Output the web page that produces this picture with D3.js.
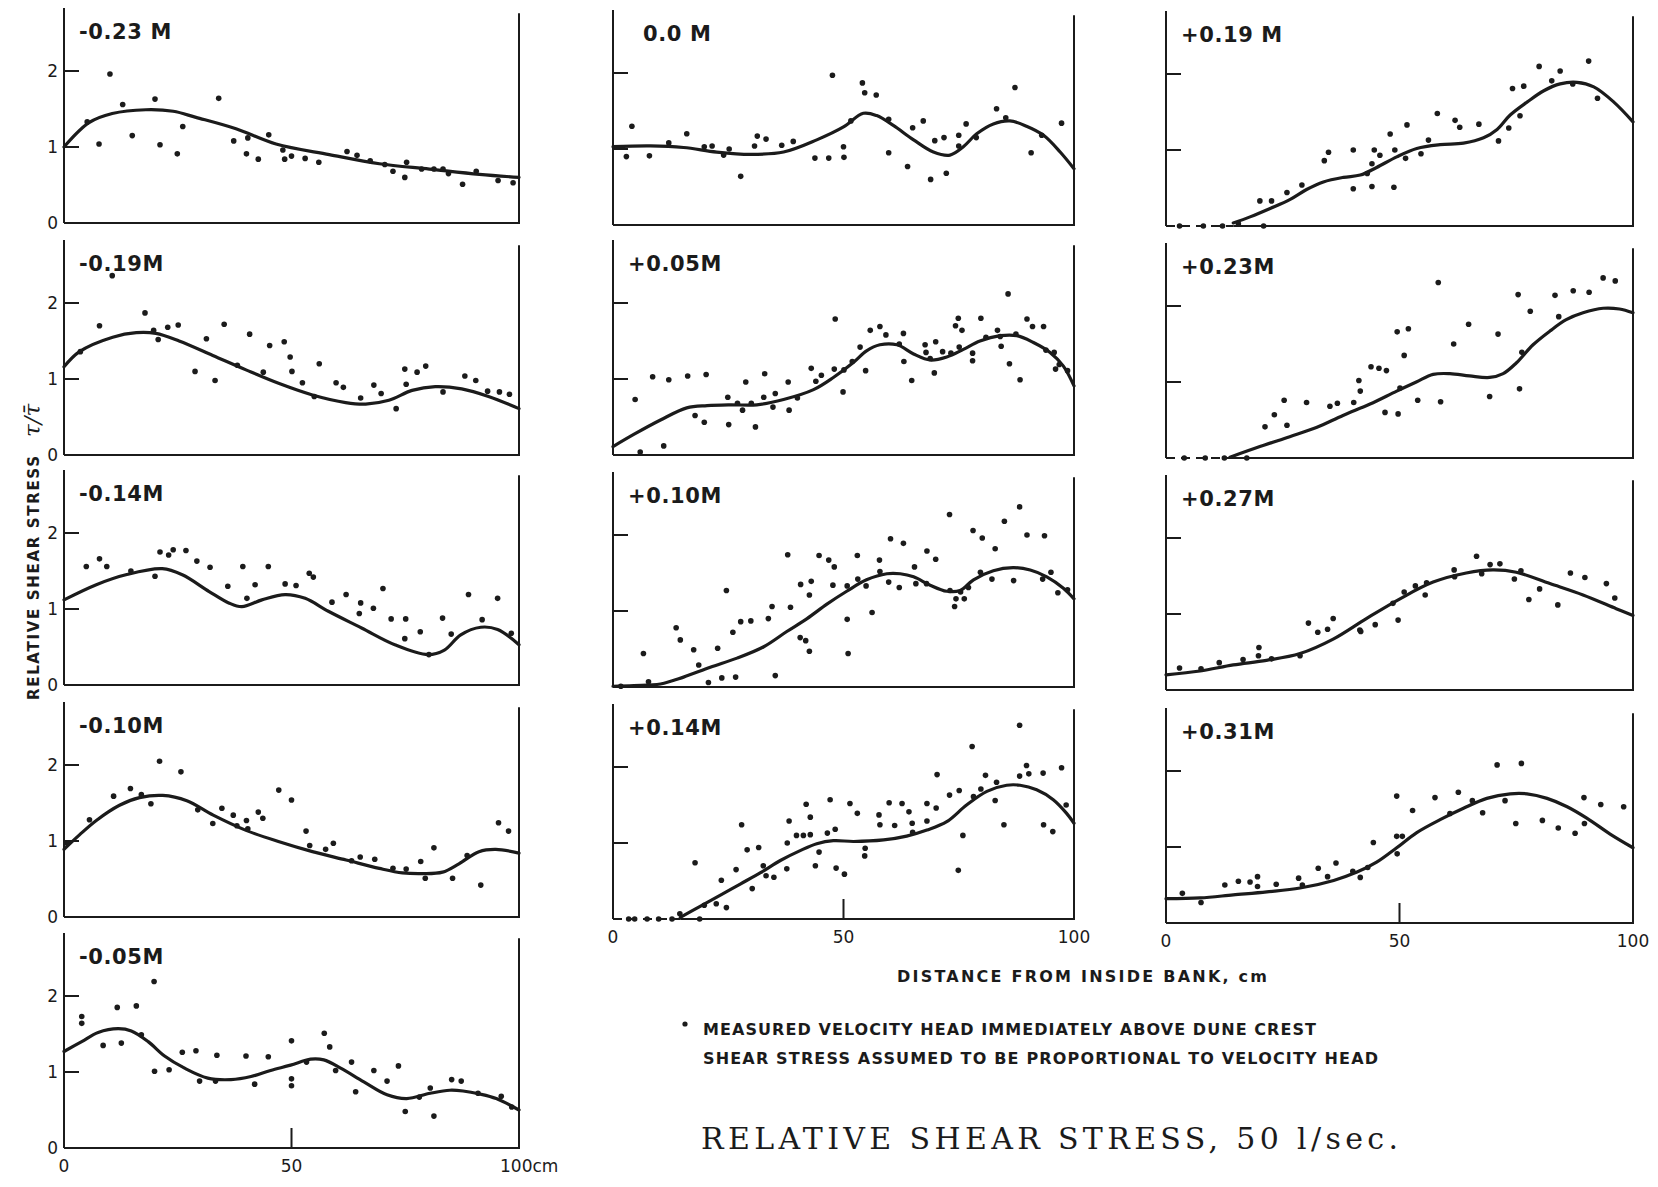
<!DOCTYPE html>
<html>
<head>
<meta charset="utf-8">
<script src="https://cdn.jsdelivr.net/npm/d3@7"></script>
<style>
  body { margin: 0; background: #fff; }
  svg { display: block; }
</style>
</head>
<body>
<svg id="chart" width="1658" height="1187"></svg>
<script>
// ---- data: [distance cm, tau / mean tau] ----
const ptsM023 = [[5.1,1.33],[7.7,1.04],[10.1,1.96],[12.9,1.56],[15.0,1.15],[20.0,1.63],[21.1,1.03],[24.9,0.91],[26.1,1.27],[34.0,1.64],[37.3,1.08],[40.1,0.91],[40.4,1.12],[42.7,0.84],[45.0,1.16],[48.1,0.96],[48.5,0.84],[50.0,0.88],[53.0,0.85],[56.0,0.80],[62.2,0.94],[64.4,0.89],[67.3,0.82],[70.5,0.77],[72.3,0.68],[74.9,0.60],[75.3,0.80],[78.6,0.71],[81.3,0.71],[83.3,0.71],[84.5,0.65],[87.6,0.51],[90.6,0.68],[95.4,0.56],[98.7,0.53]];
const crvM023 = [[0,1.0],[5.5,1.32],[10.6,1.44],[18,1.49],[24,1.47],[29,1.39],[37.8,1.24],[46.6,1.04],[58.3,0.90],[69.3,0.78],[80.3,0.71],[91.3,0.64],[100,0.60]];

const ptsM019 = [[3.6,1.36],[7.8,1.70],[10.6,2.36],[17.8,1.87],[19.7,1.64],[20.7,1.52],[22.8,1.68],[25.1,1.71],[28.8,1.10],[31.3,1.53],[33.2,0.98],[35.2,1.72],[38.1,1.18],[40.8,1.59],[43.8,1.09],[45.2,1.44],[48.4,1.49],[49.7,1.29],[50.1,1.10],[52.4,0.95],[55.0,0.77],[56.1,1.20],[59.8,0.95],[61.4,0.89],[65.2,0.75],[68.1,0.92],[69.7,0.81],[73.0,0.61],[74.9,1.13],[75.2,0.93],[77.6,1.09],[79.5,1.17],[83.3,0.83],[88.1,1.04],[90.5,0.98],[93.1,0.84],[95.7,0.83],[97.9,0.80]];
const crvM019 = [[0,1.16],[3.4,1.36],[10.7,1.55],[15.9,1.61],[20.2,1.60],[25.3,1.50],[32.7,1.31],[40,1.12],[47.3,0.94],[54.6,0.79],[61.9,0.69],[66.3,0.67],[71.4,0.72],[76.5,0.85],[81.6,0.90],[87.4,0.87],[93.3,0.77],[100,0.61]];

const ptsM014 = [[4.9,1.56],[7.8,1.66],[9.4,1.56],[14.7,1.50],[20.0,1.43],[21.1,1.75],[23.0,1.71],[24.0,1.78],[26.8,1.77],[29.2,1.63],[32.1,1.55],[36.0,1.30],[39.3,1.56],[40.2,1.14],[42.0,1.32],[44.9,1.56],[48.6,1.33],[51.0,1.31],[53.9,1.47],[54.8,1.42],[58.9,1.09],[62.0,1.19],[64.9,0.94],[65.2,1.08],[68.0,1.01],[70.1,1.27],[71.9,0.87],[75.1,0.87],[74.9,0.61],[78.3,0.70],[80.2,0.40],[83.2,0.88],[85.1,0.67],[88.9,1.19],[91.9,0.86],[95.3,1.14],[98.3,0.68]];
const crvM014 = [[0,1.12],[7.1,1.32],[13.6,1.45],[21.6,1.53],[26,1.45],[31.9,1.23],[36.2,1.08],[39.1,1.03],[43.5,1.12],[48.6,1.19],[53,1.14],[58.1,0.97],[65.4,0.75],[72.7,0.53],[80,0.40],[83.6,0.46],[87.2,0.66],[91.6,0.76],[95.3,0.73],[100,0.53]];

const ptsM010 = [[0.7,0.97],[5.6,1.28],[10.9,1.59],[14.6,1.69],[17.0,1.61],[19.1,1.49],[21.0,2.05],[25.7,1.91],[29.4,1.41],[32.7,1.23],[34.7,1.43],[37.2,1.34],[38.0,1.20],[40.1,1.27],[40.4,1.16],[42.7,1.38],[43.7,1.30],[47.2,1.67],[50.0,1.54],[53.2,1.13],[54.0,0.94],[57.5,0.89],[59.2,0.97],[63.2,0.74],[65.1,0.79],[68.3,0.76],[72.3,0.64],[75.2,0.63],[78.4,0.73],[79.4,0.51],[81.3,0.91],[85.4,0.51],[88.6,0.81],[91.6,0.42],[95.5,1.24],[97.7,1.13]];
const crvM010 = [[0,0.89],[3.4,1.08],[7.1,1.27],[12.2,1.47],[16.6,1.57],[21.7,1.60],[27,1.53],[32.8,1.34],[40,1.14],[47.3,0.99],[54.6,0.86],[62,0.75],[69.3,0.64],[74.4,0.58],[78.8,0.57],[83.2,0.59],[86.8,0.70],[91.2,0.86],[94.9,0.89],[100,0.84]];

const ptsM005 = [[3.9,1.73],[3.9,1.64],[8.6,1.35],[11.7,1.85],[12.6,1.38],[15.9,1.87],[17.0,1.49],[19.8,2.19],[19.9,1.01],[23.1,1.03],[26.0,1.26],[29.0,1.28],[29.8,0.88],[33.3,0.88],[33.6,1.22],[40.0,1.21],[41.9,0.84],[44.9,1.20],[50.0,1.41],[50.0,0.91],[50.0,0.82],[53.3,1.13],[57.2,1.51],[58.4,1.33],[59.7,1.02],[63.2,1.13],[64.1,0.74],[68.1,1.02],[71.0,0.88],[73.5,1.08],[75.0,0.48],[78.1,0.67],[80.5,0.79],[81.3,0.42],[85.2,0.90],[87.3,0.88],[91.0,0.72],[96.1,0.68],[98.4,0.54]];
const crvM005 = [[0,1.27],[3.9,1.40],[7.5,1.52],[11.9,1.57],[14.8,1.54],[18.5,1.40],[22.1,1.21],[26.5,1.05],[31.6,0.92],[36.7,0.90],[41.1,0.94],[45.4,1.02],[49.8,1.09],[54.2,1.17],[57.1,1.16],[60.8,1.05],[65.9,0.87],[71,0.70],[75.3,0.65],[80.5,0.72],[84.8,0.76],[87.7,0.75],[91.4,0.71],[95,0.65],[100,0.50]];

const ptsZ000 = [[2.9,0.90],[4.1,1.30],[7.9,0.91],[12.1,1.08],[16.0,1.20],[19.8,1.03],[21.5,1.04],[24.0,0.92],[25.2,1.00],[27.7,0.64],[30.7,1.04],[31.3,1.17],[33.2,1.13],[36.6,1.05],[39.1,1.10],[43.8,0.88],[46.8,0.88],[47.6,1.97],[50.0,1.03],[50.1,0.89],[51.6,1.37],[54.1,1.87],[54.6,1.74],[57.1,1.71],[59.8,1.39],[59.8,0.95],[63.9,0.77],[65.0,1.28],[67.3,1.37],[68.9,0.60],[69.8,1.11],[71.8,1.15],[72.3,0.68],[75.0,1.04],[75.0,1.18],[76.6,1.33],[78.8,1.15],[83.2,1.53],[85.2,1.41],[87.2,1.81],[90.7,0.95],[93.0,1.18],[97.3,1.34]];
const crvZ000 = [[0,1.03],[8.1,1.04],[15.3,1.02],[22.5,0.96],[29.8,0.93],[37,0.96],[44.2,1.12],[50,1.29],[54.3,1.47],[57.2,1.44],[60.8,1.31],[65.2,1.12],[69.5,0.96],[73.1,0.92],[76,1.03],[78.9,1.20],[82.5,1.33],[86.1,1.37],[89.7,1.30],[93.4,1.18],[97,0.96],[100,0.74]];

const ptsP005 = [[4.8,0.73],[5.9,0.04],[8.6,1.03],[11.0,0.12],[12.1,0.99],[16.2,1.04],[17.8,0.52],[19.8,0.43],[20.2,1.06],[24.9,0.76],[25.1,0.40],[27.0,0.68],[28.1,0.59],[28.8,0.96],[30.0,0.68],[30.9,0.37],[32.7,0.76],[32.9,1.07],[34.7,0.63],[35.2,0.81],[38.0,0.96],[38.2,0.59],[40.0,0.75],[43.0,1.14],[44.0,0.97],[45.2,1.05],[48.2,1.79],[48.0,1.13],[49.9,0.83],[50.1,1.12],[51.9,1.23],[53.6,1.42],[54.8,1.11],[55.8,1.64],[57.9,1.69],[59.2,1.58],[62.1,1.46],[63.0,1.60],[63.1,1.23],[64.8,0.98],[67.7,1.45],[67.9,1.35],[68.8,1.27],[69.7,1.08],[70.0,1.49],[71.5,1.36],[73.3,1.34],[74.3,1.70],[74.9,1.80],[75.7,1.64],[75.1,1.42],[78.0,1.34],[78.0,1.24],[79.8,1.80],[80.9,1.55],[83.4,1.64],[84.0,1.56],[84.2,1.43],[85.7,2.12],[86.0,1.20],[87.4,1.59],[88.3,0.99],[89.8,1.79],[91.0,1.69],[93.4,1.69],[93.9,1.38],[95.7,1.35],[96.0,1.13],[96.8,1.19],[98.6,1.11]];
const crvP005 = [[0,0.11],[4.5,0.27],[10.3,0.46],[16,0.62],[20.4,0.65],[25.4,0.66],[31.2,0.66],[37,0.73],[43.5,0.86],[47.8,1.02],[52.2,1.22],[55,1.37],[57.9,1.45],[61.6,1.45],[65.2,1.33],[68.8,1.25],[72.4,1.29],[76,1.39],[79.6,1.50],[84,1.57],[87.6,1.57],[91.2,1.48],[94.8,1.35],[97.7,1.17],[100,0.91]];

const ptsP010 = [[1.7,0.01],[6.6,0.44],[7.7,0.07],[13.7,0.78],[14.6,0.62],[17.5,0.49],[18.6,0.29],[20.7,0.06],[22.7,0.51],[23.6,0.12],[24.6,1.27],[26.0,0.72],[26.6,0.13],[27.7,0.86],[29.9,0.87],[33.7,0.90],[34.5,1.06],[35.2,0.15],[37.9,1.74],[38.5,1.05],[40.6,0.65],[40.7,1.35],[41.8,0.61],[42.6,1.21],[42.6,0.47],[43.0,1.39],[44.7,1.73],[46.8,1.67],[47.7,1.34],[48.0,1.58],[50.8,1.33],[50.8,0.89],[51.0,0.44],[53.0,1.73],[53.1,1.42],[54.9,1.33],[56.2,0.98],[57.8,1.67],[57.9,1.52],[59.8,1.38],[60.2,1.95],[62.1,1.31],[63.0,1.89],[65.4,1.58],[65.7,1.36],[68.0,1.36],[68.1,1.79],[70.0,1.68],[73.0,2.27],[73.1,1.27],[74.1,1.06],[74.4,1.16],[75.4,1.25],[76.2,1.16],[77.1,1.31],[78.1,2.06],[79.7,1.51],[80.1,1.96],[82.2,1.42],[82.9,1.82],[84.9,2.18],[86.9,1.40],[88.2,2.37],[89.8,2.00],[93.6,1.99],[93.2,1.42],[95.0,1.51],[96.5,1.24],[98.6,1.28]];
const crvP010 = [[0,0.01],[4.5,0.02],[10.3,0.04],[15.3,0.13],[21.1,0.26],[26.9,0.38],[32.7,0.53],[37.7,0.73],[42.1,0.90],[46.4,1.09],[50.7,1.26],[55,1.41],[59.4,1.49],[62.3,1.49],[65.2,1.45],[68.8,1.34],[72.4,1.26],[75.3,1.27],[78.2,1.41],[82.5,1.53],[86.8,1.57],[90.5,1.54],[94.1,1.45],[97.7,1.30],[100,1.16]];

const ptsP014 = [[3.4,0],[4.7,0],[7.4,0],[9.9,0],[12.8,0],[14.5,0.07],[17.8,0.74],[18.8,0],[19.8,0.18],[22.4,0.20],[23.5,0.51],[24.6,0.15],[26.7,0.65],[27.9,1.24],[29.1,0.91],[30.2,0.40],[31.6,0.94],[32.6,0.70],[33.2,0.57],[34.9,0.55],[37.7,0.66],[37.8,1.00],[38.2,1.29],[39.8,1.10],[41.3,1.10],[41.9,1.51],[42.8,1.34],[42.8,1.11],[43.9,0.70],[44.7,0.88],[46.5,1.13],[47.1,1.57],[48.2,1.18],[48.4,0.67],[50.2,0.59],[51.4,1.52],[53.0,1.39],[54.6,0.83],[54.7,0.93],[57.7,1.37],[57.9,1.24],[59.9,1.53],[61.1,1.23],[62.7,1.52],[64.2,1.41],[64.9,1.26],[65.0,1.14],[68.1,1.52],[68.1,1.29],[70.1,1.46],[70.3,1.90],[73.0,1.63],[74.9,0.64],[75.1,1.69],[75.9,1.10],[77.9,2.27],[78.2,1.61],[79.8,1.71],[80.8,1.89],[82.9,1.56],[83.2,1.80],[84.8,1.24],[88.2,2.55],[88.2,1.88],[89.7,2.02],[90.2,1.91],[93.3,1.92],[93.4,1.24],[95.4,1.15],[97.3,1.99],[98.3,1.50]];
const crvP014 = [[14.6,0.02],[19,0.17],[23.5,0.32],[27.6,0.46],[32,0.61],[36.3,0.77],[40.6,0.90],[44.2,0.99],[47.8,1.03],[52.2,1.02],[58.7,1.04],[63.7,1.09],[68.1,1.17],[72.4,1.28],[76.7,1.50],[81.1,1.68],[85.4,1.76],[88.3,1.76],[91.9,1.70],[95.5,1.57],[98.4,1.39],[100,1.26]];

const ptsP019 = [[2.9,0],[8.0,0],[12.1,0],[15.5,0.03],[20.9,0],[20.1,0.33],[22.6,0.33],[25.9,0.44],[29.1,0.54],[33.9,0.86],[34.8,0.97],[40.1,1.00],[40.1,0.49],[43.1,0.69],[44.1,0.52],[44.1,0.82],[44.6,1.00],[45.8,0.93],[48.0,1.21],[48.8,0.51],[49.0,1.00],[51.3,0.89],[51.6,1.33],[54.6,0.95],[56.2,1.13],[58.1,1.48],[61.9,1.39],[62.9,1.30],[67.0,1.34],[71.2,1.12],[73.4,1.29],[74.2,1.81],[75.8,1.45],[76.6,1.84],[79.9,2.10],[82.6,1.91],[84.4,2.04],[87.1,1.87],[90.5,2.17],[92.4,1.68]];
const crvP019 = [[14.4,0.04],[18,0.12],[22.3,0.23],[26.6,0.35],[30.1,0.48],[33.7,0.58],[38,0.64],[41.6,0.67],[45.1,0.77],[49.4,0.91],[53.7,1.02],[58.7,1.07],[63.7,1.09],[68,1.16],[70.9,1.27],[73.7,1.46],[77.3,1.63],[80.9,1.78],[84.4,1.87],[88,1.89],[91.6,1.83],[95.9,1.63],[100,1.37]];

const ptsP023 = [[3.9,0],[8.4,0],[12.5,0],[17.3,0],[21.2,0.41],[23.2,0.57],[25.3,0.76],[25.9,0.43],[30.1,0.73],[35.1,0.68],[36.7,0.72],[40.2,0.73],[41.3,1.02],[41.6,0.88],[43.9,1.20],[45.6,1.18],[47.2,1.15],[46.9,0.60],[49.5,1.66],[49.7,0.58],[50.1,0.92],[51.0,1.35],[51.9,1.70],[53.9,0.76],[58.3,2.31],[58.8,0.74],[61.6,1.50],[64.8,1.76],[69.3,0.81],[71.1,1.63],[75.4,2.15],[75.7,0.91],[76.2,1.39],[78.0,1.93],[83.3,2.14],[84.1,1.86],[87.2,2.20],[90.6,2.18],[93.6,2.37],[96.2,2.33]];
const crvP023 = [[13.7,0.01],[20.1,0.15],[26.5,0.28],[32.2,0.40],[37.9,0.56],[43.7,0.71],[49.4,0.88],[53.6,1.00],[57.2,1.10],[60.8,1.11],[65,1.08],[69.3,1.06],[72.2,1.11],[75,1.25],[78.6,1.49],[82.2,1.67],[85.7,1.82],[89.3,1.91],[93.6,1.97],[97.1,1.96],[100,1.91]];

const ptsP027 = [[2.9,0.29],[7.5,0.28],[11.4,0.36],[16.5,0.40],[19.8,0.45],[19.9,0.56],[22.6,0.41],[28.7,0.45],[30.5,0.88],[32.5,0.76],[34.6,0.80],[35.8,0.94],[41.5,0.79],[41.7,0.77],[44.8,0.86],[48.6,1.14],[49.7,0.92],[51.0,1.29],[53.4,1.37],[55.5,1.25],[55.8,1.41],[61.7,1.58],[61.8,1.49],[66.5,1.76],[67.6,1.53],[69.4,1.65],[71.5,1.66],[74.6,1.46],[76.0,1.57],[77.7,1.19],[80.0,1.33],[83.9,1.12],[86.6,1.54],[89.7,1.48],[94.3,1.40],[96.1,1.21]];
const crvP027 = [[0,0.20],[7.3,0.25],[14.4,0.33],[21.5,0.39],[28.7,0.48],[35.8,0.67],[42.9,0.94],[50.1,1.20],[57.2,1.42],[64.3,1.54],[70,1.58],[75,1.55],[82.2,1.40],[89.3,1.25],[96.4,1.07],[100,0.98]];

const ptsP031 = [[3.5,0.39],[7.5,0.27],[12.6,0.50],[15.5,0.55],[18.0,0.54],[19.6,0.61],[19.6,0.48],[23.6,0.51],[28.4,0.59],[29.2,0.50],[32.6,0.72],[34.6,0.61],[36.4,0.79],[40.0,0.68],[41.6,0.60],[43.2,0.73],[44.4,1.06],[49.4,1.67],[49.4,1.14],[50.6,1.14],[49.5,0.91],[52.8,1.48],[57.6,1.65],[60.8,1.44],[62.6,1.72],[65.6,1.61],[67.8,1.45],[70.9,2.08],[72.6,1.61],[74.9,1.31],[76.1,2.10],[80.6,1.35],[84.0,1.25],[87.6,1.18],[89.5,1.65],[89.6,1.31],[93.1,1.56],[98.0,1.53]];
const crvP031 = [[0,0.32],[7.3,0.33],[14.4,0.37],[21.6,0.41],[28.7,0.46],[35.9,0.56],[40.9,0.67],[45.1,0.80],[49.4,0.99],[53.7,1.19],[58.7,1.36],[63.7,1.51],[68.7,1.64],[73.7,1.70],[77.3,1.70],[81.6,1.64],[85.9,1.53],[90.1,1.38],[95.1,1.17],[100,0.99]];

const yTicks = [0, 1, 2];
const xTicks = [0, 50, 100];

// which panel sits where (col, row), and where the curve lifts off zero
const panels = [
  { label: "-0.23 M", col: 0, row: 0, pts: ptsM023, crv: crvM023 },
  { label: "-0.19M",  col: 0, row: 1, pts: ptsM019, crv: crvM019 },
  { label: "-0.14M",  col: 0, row: 2, pts: ptsM014, crv: crvM014 },
  { label: "-0.10M",  col: 0, row: 3, pts: ptsM010, crv: crvM010 },
  { label: "-0.05M",  col: 0, row: 4, pts: ptsM005, crv: crvM005 },
  { label: "0.0 M",   col: 1, row: 0, pts: ptsZ000, crv: crvZ000 },
  { label: "+0.05M",  col: 1, row: 1, pts: ptsP005, crv: crvP005 },
  { label: "+0.10M",  col: 1, row: 2, pts: ptsP010, crv: crvP010 },
  { label: "+0.14M",  col: 1, row: 3, pts: ptsP014, crv: crvP014, zeroTo: 14.6 },
  { label: "+0.19 M", col: 2, row: 0, pts: ptsP019, crv: crvP019, zeroTo: 14.4 },
  { label: "+0.23M",  col: 2, row: 1, pts: ptsP023, crv: crvP023, zeroTo: 13.7 },
  { label: "+0.27M",  col: 2, row: 2, pts: ptsP027, crv: crvP027 },
  { label: "+0.31M",  col: 2, row: 3, pts: ptsP031, crv: crvP031 }
];

// ---- layout ----
const ink = "#1b1b1b";
const font = "'DejaVu Sans', sans-serif";
const unit = 76;          // px per 1.0 of tau/tau-bar
const colX = [[64, 519], [613, 1074], [1166, 1633]];
const baseY = [[223, 455, 685, 917, 1148], [225, 455, 687, 919], [226, 458, 690, 923]];
const lastRow = [4, 3, 3];
const labelIndent = { "0.0 M": 30 };

const svg = d3.select("#chart");
svg.append("rect").attr("width", 1658).attr("height", 1187).attr("fill", "#fff");

const line = d3.line().curve(d3.curveCatmullRom.alpha(0.5));

panels.forEach(p => {
  const [x0, x1] = colX[p.col];
  const b = baseY[p.col][p.row];
  const x = d3.scaleLinear().domain([0, 100]).range([x0, x1]);
  const y = d3.scaleLinear().domain([0, 2.8]).range([b, b - 2.8 * unit]);
  const g = svg.append("g");

  // frame: left, right, bottom
  g.append("line").attr("x1", x(0)).attr("x2", x(0)).attr("y1", y(0)).attr("y2", y(2.83))
    .attr("stroke", ink).attr("stroke-width", 2);
  g.append("line").attr("x1", x(100)).attr("x2", x(100)).attr("y1", y(0) + 1).attr("y2", y(2.76))
    .attr("stroke", ink).attr("stroke-width", 2);
  g.append("line").attr("x1", x(p.zeroTo || 0)).attr("x2", x(100)).attr("y1", y(0)).attr("y2", y(0))
    .attr("stroke", ink).attr("stroke-width", 2);
  if (p.zeroTo) {
    g.append("line").attr("x1", x(0)).attr("x2", x(p.zeroTo)).attr("y1", y(0)).attr("y2", y(0))
      .attr("stroke", ink).attr("stroke-width", 2).attr("stroke-dasharray", "9,6");
  }

  // inward ticks at 1 and 2
  g.selectAll(".yt").data(yTicks.filter(t => t > 0)).enter().append("line")
    .attr("x1", x(0)).attr("x2", x(0) + 15)
    .attr("y1", d => y(d)).attr("y2", d => y(d))
    .attr("stroke", ink).attr("stroke-width", 2);

  if (p.col === 0) {
    g.selectAll(".yl").data(yTicks).enter().append("text")
      .attr("x", x(0) - 6).attr("y", d => y(d)).attr("dy", "0.36em")
      .attr("text-anchor", "end")
      .attr("font-family", font).attr("font-size", 17).attr("fill", ink)
      .text(d => d);
  }

  if (p.row === lastRow[p.col]) {
    g.append("line").attr("x1", x(50)).attr("x2", x(50)).attr("y1", y(0)).attr("y2", y(0) - 20)
      .attr("stroke", ink).attr("stroke-width", 2);
    g.selectAll(".xl").data(xTicks).enter().append("text")
      .attr("x", d => x(d)).attr("y", y(0) + 24)
      .attr("text-anchor", d => (p.col === 0 && d === 100) ? "start" : "middle")
      .attr("dx", d => (p.col === 0 && d === 100) ? -19 : 0)
      .attr("font-family", font).attr("font-size", 17).attr("fill", ink)
      .text(d => (p.col === 0 && d === 100) ? "100cm" : d);
  }

  // fitted curve
  g.append("path")
    .attr("d", line(p.crv.map(d => [x(d[0]), y(d[1])])))
    .attr("fill", "none").attr("stroke", ink).attr("stroke-width", 3.2)
    .attr("stroke-linecap", "round").attr("stroke-linejoin", "round");

  // measured points
  g.selectAll(".pt").data(p.pts).enter().append("circle")
    .attr("cx", d => x(d[0])).attr("cy", d => y(d[1])).attr("r", 2.8)
    .attr("fill", ink);

  // station label
  g.append("text")
    .attr("x", x(0) + (labelIndent[p.label] || 15)).attr("y", y(2.42))
    .attr("font-family", font).attr("font-weight", "bold").attr("font-size", 21)
    .attr("letter-spacing", 0.6).attr("fill", ink)
    .text(p.label);
});

// y axis title
svg.append("text")
  .attr("transform", "translate(39,700) rotate(-90)")
  .attr("font-family", font).attr("font-weight", "bold").attr("font-size", 15).attr("fill", ink)
  .attr("textLength", 244).attr("lengthAdjust", "spacing")
  .text("RELATIVE SHEAR STRESS");
svg.append("text")
  .attr("transform", "translate(40,437) rotate(-90)")
  .attr("font-family", "'DejaVu Serif', serif").attr("font-style", "italic").attr("font-size", 23).attr("fill", ink)
  .text("τ/τ\u0304");

// x axis title
svg.append("text")
  .attr("x", 897).attr("y", 982)
  .attr("font-family", font).attr("font-weight", "bold").attr("font-size", 16).attr("fill", ink)
  .attr("textLength", 370).attr("lengthAdjust", "spacing")
  .text("DISTANCE FROM INSIDE BANK, cm");

// legend
svg.append("circle").attr("cx", 685).attr("cy", 1024).attr("r", 2.6).attr("fill", ink);
svg.append("text")
  .attr("x", 703).attr("y", 1035)
  .attr("font-family", font).attr("font-weight", "bold").attr("font-size", 16).attr("fill", ink)
  .attr("textLength", 613).attr("lengthAdjust", "spacing")
  .text("MEASURED VELOCITY HEAD IMMEDIATELY ABOVE DUNE CREST");
svg.append("text")
  .attr("x", 703).attr("y", 1064)
  .attr("font-family", font).attr("font-weight", "bold").attr("font-size", 16).attr("fill", ink)
  .attr("textLength", 675).attr("lengthAdjust", "spacing")
  .text("SHEAR STRESS ASSUMED TO BE PROPORTIONAL TO VELOCITY HEAD");

// title
svg.append("text")
  .attr("x", 701).attr("y", 1149)
  .attr("font-family", "'DejaVu Serif', serif").attr("font-size", 30).attr("fill", ink)
  .attr("textLength", 697).attr("lengthAdjust", "spacing")
  .text("RELATIVE SHEAR STRESS, 50 l/sec.");
</script>
</body>
</html>
